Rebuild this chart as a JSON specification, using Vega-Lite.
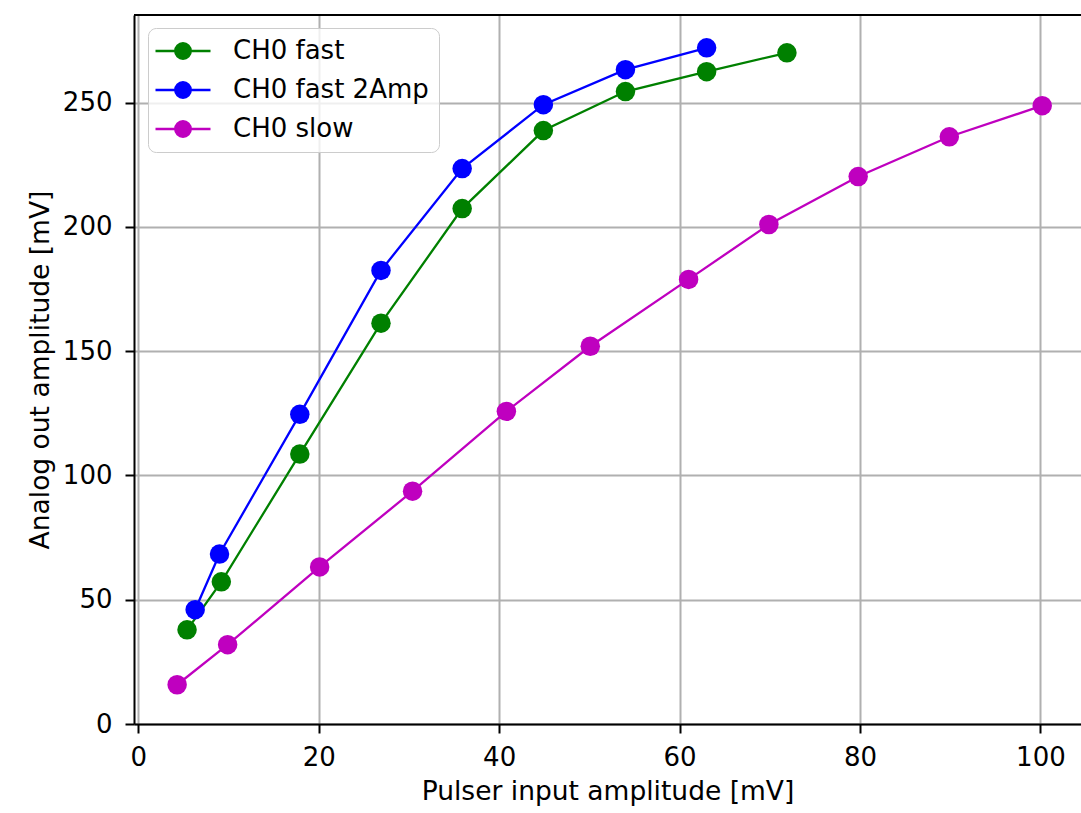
{
  "$schema": "https://vega.github.io/schema/vega-lite/v6.json",
  "width": 947,
  "height": 709,
  "autosize": {"type": "none"},
  "padding": {"left": 134, "top": 15, "right": 0, "bottom": 89},
  "background": "white",
  "view": {"stroke": null},
  "config": {
    "font": "DejaVu Sans",
    "axis": {
      "domainColor": "black",
      "domainWidth": 2,
      "tickColor": "black",
      "tickWidth": 2,
      "tickSize": 9,
      "labelPadding": 11,
      "labelFont": "DejaVu Sans",
      "labelFontSize": 26,
      "labelColor": "black",
      "titleFont": "DejaVu Sans",
      "titleFontSize": 26.5,
      "titleFontWeight": "normal",
      "titleColor": "black",
      "gridColor": "#b0b0b0",
      "gridWidth": 2
    },
    "legend": {
      "labelFont": "DejaVu Sans",
      "labelFontSize": 26,
      "labelColor": "black",
      "labelLimit": 0
    }
  },
  "datasets": {
    "pts": [
      {"series": "CH0 fast", "x": 5.4, "y": 37.9},
      {"series": "CH0 fast", "x": 9.2, "y": 57.2},
      {"series": "CH0 fast", "x": 17.9, "y": 108.6},
      {"series": "CH0 fast", "x": 26.9, "y": 161.3},
      {"series": "CH0 fast", "x": 35.9, "y": 207.4},
      {"series": "CH0 fast", "x": 44.9, "y": 238.8},
      {"series": "CH0 fast", "x": 54.0, "y": 254.5},
      {"series": "CH0 fast", "x": 63.0, "y": 262.5},
      {"series": "CH0 fast", "x": 71.9, "y": 270.1},
      {"series": "CH0 fast 2Amp", "x": 6.3, "y": 46.0},
      {"series": "CH0 fast 2Amp", "x": 9.0, "y": 68.4},
      {"series": "CH0 fast 2Amp", "x": 17.9, "y": 124.6},
      {"series": "CH0 fast 2Amp", "x": 26.9, "y": 182.5},
      {"series": "CH0 fast 2Amp", "x": 35.9, "y": 223.5},
      {"series": "CH0 fast 2Amp", "x": 44.9, "y": 249.2},
      {"series": "CH0 fast 2Amp", "x": 54.0, "y": 263.3},
      {"series": "CH0 fast 2Amp", "x": 63.0, "y": 272.1},
      {"series": "CH0 slow", "x": 4.3, "y": 15.8},
      {"series": "CH0 slow", "x": 9.9, "y": 31.9},
      {"series": "CH0 slow", "x": 20.1, "y": 63.2},
      {"series": "CH0 slow", "x": 30.4, "y": 93.7},
      {"series": "CH0 slow", "x": 40.8, "y": 125.8},
      {"series": "CH0 slow", "x": 50.1, "y": 152.0},
      {"series": "CH0 slow", "x": 61.0, "y": 178.9},
      {"series": "CH0 slow", "x": 69.9, "y": 201.0},
      {"series": "CH0 slow", "x": 79.8, "y": 220.3},
      {"series": "CH0 slow", "x": 89.9, "y": 236.3},
      {"series": "CH0 slow", "x": 100.2, "y": 248.8}
    ]
  },
  "layer": [
    {
      "data": {"name": "pts"},
      "mark": {"type": "line", "strokeWidth": 2.3},
      "encoding": {
        "x": {
          "field": "x", "type": "quantitative",
          "scale": {"domain": [-0.48, 104.5], "nice": false, "zero": false},
          "axis": {"title": "Pulser input amplitude [mV]", "values": [0, 20, 40, 60, 80, 100], "titlePadding": 8}
        },
        "y": {
          "field": "y", "type": "quantitative",
          "scale": {"domain": [0, 285.3], "nice": false},
          "axis": {"title": "Analog out amplitude [mV]", "values": [0, 50, 100, 150, 200, 250], "titlePadding": 8, "labelPadding": 13}
        },
        "color": {
          "field": "series", "type": "nominal",
          "scale": {"domain": ["CH0 fast", "CH0 fast 2Amp", "CH0 slow"], "range": ["#008000", "#0000ff", "#bf00bf"]},
          "legend": {
            "title": null,
            "orient": "none",
            "legendX": 14,
            "legendY": 13,
            "direction": "vertical",
            "symbolType": "M-2.75,0L2.75,0M-0.78,0A0.78,0.78,0,1,1,0.78,0A0.78,0.78,0,1,1,-0.78,0Z",
            "symbolSize": 400,
            "symbolStrokeWidth": 2.3,
            "symbolOpacity": 1,
            "symbolOffset": 12,
            "rowPadding": 13,
            "labelOffset": 37,
            "padding": 10,
            "strokeColor": "#cccccc",
            "fillColor": "rgba(255,255,255,0.8)",
            "cornerRadius": 8
          }
        },
        "order": {"field": "x", "type": "quantitative"}
      }
    },
    {
      "data": {"name": "pts"},
      "mark": {"type": "point", "filled": true, "opacity": 1, "size": 380},
      "encoding": {
        "x": {"field": "x", "type": "quantitative"},
        "y": {"field": "y", "type": "quantitative"},
        "color": {"field": "series", "type": "nominal"}
      }
    },
    {
      "data": {"values": [{}]},
      "mark": {"type": "rule", "color": "black", "strokeWidth": 2},
      "encoding": {"y": {"datum": 285.3}}
    }
  ]
}
